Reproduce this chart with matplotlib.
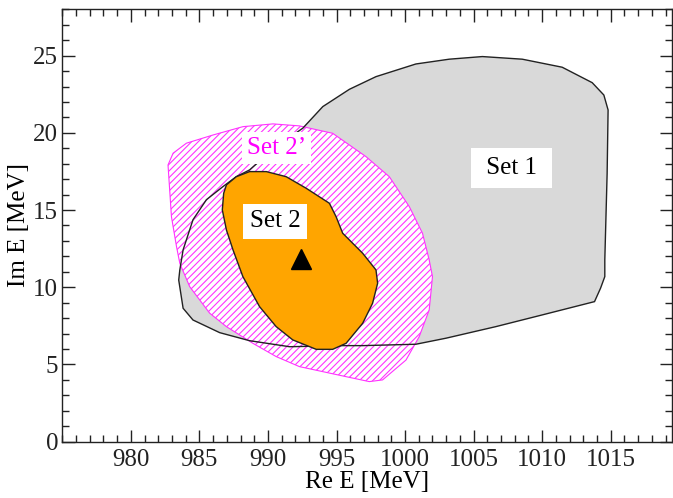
import matplotlib
matplotlib.use("Agg")
import matplotlib.pyplot as plt
from matplotlib.patches import Polygon
from matplotlib.ticker import MultipleLocator

plt.rcParams['font.family'] = ['Liberation Serif', 'DejaVu Serif']
plt.rcParams['hatch.linewidth'] = 0.8
plt.rcParams['hatch.color'] = '#ff33ff'

# Set 1 contour (Re E, Im E) in MeV
set1_re = [992.54, 994.0, 995.94, 997.88, 1000.79, 1003.22, 1005.64, 1008.55, 1011.46,
           1013.65, 1014.5, 1014.81, 1014.74, 1014.57, 1014.57, 1014.26, 1013.82, 1010.01,
           1006.62, 1002.98, 1000.79, 996.91, 995.45, 991.57, 988.66, 986.48, 984.53,
           983.81, 983.49, 983.57, 983.81, 984.53, 985.51, 986.72, 987.69, 988.66, 990.48]
set1_im = [20.30, 21.70, 22.82, 23.64, 24.46, 24.77, 24.94, 24.77, 24.25,
           23.25, 22.45, 21.48, 17.38, 11.77, 10.69, 9.94, 9.07, 8.21,
           7.45, 6.70, 6.31, 6.22, 6.22, 6.15, 6.54, 7.06, 7.88,
           8.64, 10.47, 11.12, 12.42, 14.37, 15.67, 16.52, 17.16, 17.6, 19.02]

# Set 2' contour
set2p_re = [982.71, 983.08, 984.05, 985.99, 988.17, 990.36, 992.30, 994.72, 997.15,
            998.85, 1000.31, 1001.27, 1001.76, 1002.0, 1001.76, 1001.03, 1000.07, 998.36,
            997.39, 995.70, 992.30, 990.60, 988.90, 986.97, 985.75, 984.29, 983.57,
            983.33, 982.96]
set2p_im = [17.92, 18.68, 19.33, 19.86, 20.40, 20.58, 20.45, 19.97, 18.46,
            17.16, 15.22, 13.50, 11.77, 10.69, 8.53, 6.80, 5.29, 4.0,
            3.89, 4.21, 4.86, 5.51, 6.37, 7.45, 8.32, 10.04, 11.55,
            12.63, 14.57]

# Set 2 contour
set2_re = [986.97, 987.69, 988.66, 989.88, 991.33, 992.79, 994.48, 994.97, 995.45,
           996.91, 997.88, 998.0, 997.63, 996.91, 995.70, 994.72, 993.52, 991.81,
           990.60, 989.39, 988.17, 987.45, 986.97, 986.67, 986.77]
set2_im = [16.63, 17.16, 17.49, 17.49, 17.16, 16.41, 15.44, 14.57, 13.50,
           12.20, 11.12, 10.26, 8.96, 7.67, 6.37, 5.98, 5.98, 6.59,
           7.45, 8.74, 10.69, 12.42, 13.71, 15.01, 16.09]

# pole position (triangle)
pole_re = [992.4]
pole_im = [11.8]

fig = plt.figure(figsize=(6.73, 4.98), dpi=100)
ax = fig.add_axes([0.0926, 0.1131, 0.9065, 0.8682])

def pts(xs, ys):
    return list(zip(xs, ys))

# Set 1: grey fill
ax.add_patch(Polygon(pts(set1_re, set1_im), closed=True, facecolor='#d9d9d9',
                     edgecolor='none', zorder=1))
# Set 2': white face with magenta hatch
ax.add_patch(Polygon(pts(set2p_re, set2p_im), closed=True, facecolor='white',
                     edgecolor='none', zorder=2))
ax.add_patch(Polygon(pts(set2p_re, set2p_im), closed=True, facecolor='none',
                     edgecolor='#ff33ff', hatch='/////', linewidth=0.8, zorder=2.1))
# Set 1 outline
ax.add_patch(Polygon(pts(set1_re, set1_im), closed=True, facecolor='none',
                     edgecolor='#222222', linewidth=1.0, zorder=3))
# Set 2: orange
ax.add_patch(Polygon(pts(set2_re, set2_im), closed=True, facecolor='#ffa500',
                     edgecolor='#222222', linewidth=1.0, zorder=4))

ax.plot(pole_re, pole_im, marker='^', color='black', markersize=14,
        linestyle='none', zorder=6)

ax.text(1007.77, 17.73, ' Set 1 ', fontsize=18, ha='center', va='center', zorder=5,
        bbox=dict(boxstyle='square,pad=0.35', facecolor='white', edgecolor='none'))
ax.text(990.52, 14.27, 'Set 2', fontsize=18, ha='center', va='center', zorder=5,
        bbox=dict(boxstyle='square,pad=0.25', facecolor='white', edgecolor='none'))
ax.text(990.6, 19.0, 'Set 2\u2019', fontsize=18, ha='center', va='center', zorder=5,
        color='#ff00ff',
        bbox=dict(boxstyle='square,pad=0.2', facecolor='white', edgecolor='none'))

ax.set_xlim(975, 1019.5)
ax.set_ylim(0, 28)
ax.xaxis.set_major_locator(MultipleLocator(5))
ax.xaxis.set_minor_locator(MultipleLocator(1))
ax.yaxis.set_major_locator(MultipleLocator(5))
ax.yaxis.set_minor_locator(MultipleLocator(1))
ax.set_xticks([980, 985, 990, 995, 1000, 1005, 1010, 1015])
ax.tick_params(which='both', direction='in', top=True, right=True, width=1.0,
               labelsize=18, colors='#222222')
ax.tick_params(which='major', length=9)
ax.tick_params(which='minor', length=5)
ax.tick_params(axis='x', pad=5)
ax.tick_params(axis='y', pad=3)
for s in ax.spines.values():
    s.set_linewidth(1.0)
    s.set_color('#222222')

ax.set_xlabel('Re E [MeV]', fontsize=18, labelpad=0)
ax.set_ylabel('Im E [MeV]', fontsize=18, labelpad=2)

fig.savefig('out.png', dpi=100)
